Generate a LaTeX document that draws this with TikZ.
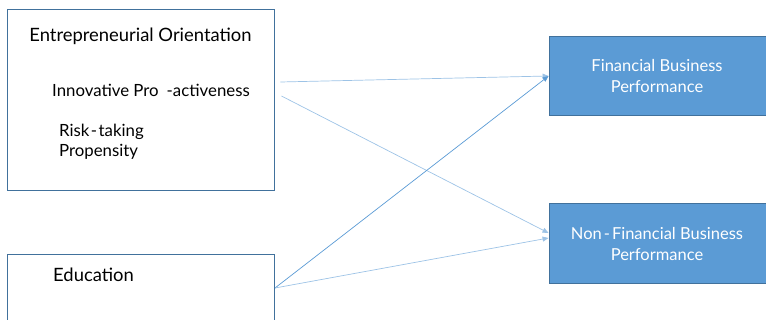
\documentclass[tikz,border=0pt]{standalone}
\usepackage{fontspec}
\setmainfont{Lato}
\usetikzlibrary{arrows.meta,calc}

\definecolor{boxblue}{HTML}{5B9BD5}
\definecolor{boxedge}{HTML}{41719C}
\definecolor{linkblue}{HTML}{9DC3E6}

\begin{document}
\begin{tikzpicture}[
    x=1pt, y=-1pt,
    construct/.style={rectangle, draw=boxedge, line width=0.9pt, fill=white, inner sep=0pt},
    outcome/.style={rectangle, draw=boxedge, line width=0.9pt, fill=boxblue, inner sep=0pt},
    txt/.style={font=\fontsize{18.4}{22}\selectfont, inner sep=0pt},
    subtxt/.style={font=\fontsize{16.8}{20}\selectfont, inner sep=0pt},
    outtxt/.style={font=\fontsize{16.5}{21}\selectfont, text=white, align=center, inner sep=0pt},
    arrow/.style={-{Triangle[length=6pt,width=5pt]}, line width=0.7pt, draw=linkblue},
]
\useasboundingbox (0,0) rectangle (766,320);

% Nodes
\node[construct, minimum width=267pt, minimum height=181pt] (eo) at (140.5,99.5) {};
\node[construct, minimum width=267pt, minimum height=90pt] (edu) at (140.5,299) {};
\node[outcome, minimum width=219pt, minimum height=79pt] (fin) at (658.5,75.5) {};
\node[outcome, minimum width=219pt, minimum height=80pt] (nonfin) at (658.5,243) {};

\node[txt, anchor=base] (eotitle) at (140.5,42) {Entrepreneurial Orientation};
\node[subtxt, anchor=base west] (innov) at (52,97) {Innovative Pro\hspace{8pt}-activeness};
\node[subtxt, anchor=base west] (risk) at (59,137) {Risk\kern1.5pt-\kern1.5pt taking};
\node[subtxt, anchor=base west] (prop) at (59,157) {Propensity};
\node[txt, anchor=base west] (edutitle) at (53,282) {Education};
\node[outtxt, anchor=base] (fintxt) at (657,93) {Financial Business\\Performance};
\node[outtxt, anchor=base] (nonfintxt) at (657,261) {Non\kern2pt-\kern2pt Financial Business\\Performance};

% Start points
\coordinate (eoA) at ($(eo.east)+(6,-17.5)$);
\coordinate (eoB) at ($(eo.east)+(7,-3.5)$);
\coordinate (eduA) at (275,288);

% Relations
\draw[arrow] (eoA) -- ($(fin.west)+(0,0.5)$);
\draw[arrow] (eoB) -- ($(nonfin.west)+(0,-10)$);
\draw[arrow, draw=boxblue] (eduA) -- ($(fin.west)+(0,0.5)$);
\draw[arrow] (eduA) -- ($(nonfin.west)+(0,-5)$);

\end{tikzpicture}
\end{document}
